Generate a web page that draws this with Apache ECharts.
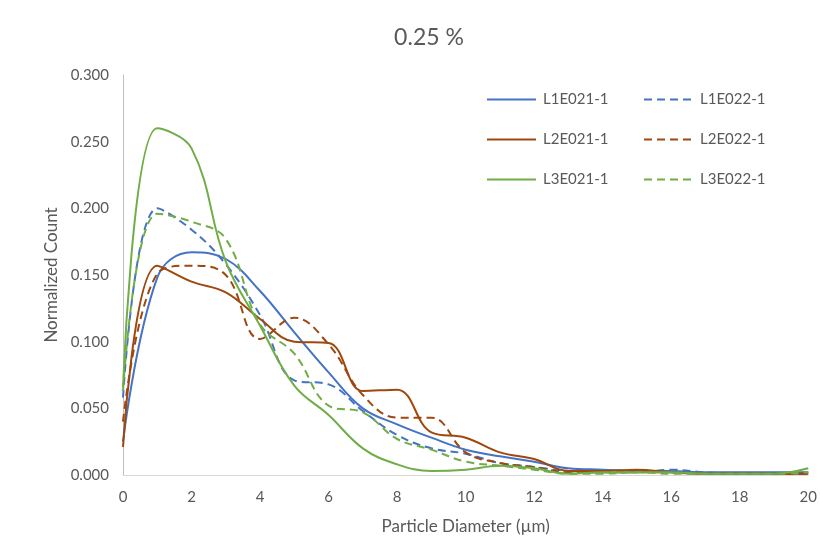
<!DOCTYPE html>
<html>
<head>
<meta charset="utf-8">
<script src="https://cdn.jsdelivr.net/npm/echarts@6/dist/echarts.min.js"></script>
<style>
  html, body { margin: 0; padding: 0; background: #fff; }
  #chart { width: 820px; height: 549px; }
</style>
</head>
<body>
<div id="chart"></div>
<script>
// particle diameter (um), one point per integer
const diameters = [0, 1, 2, 3, 4, 5, 6, 7, 8, 9, 10, 11, 12, 13, 14, 15, 16, 17, 18, 19, 20]

const seriesNames = ['L1E021-1', 'L1E022-1', 'L2E021-1', 'L2E022-1', 'L3E021-1', 'L3E022-1']

const l1e021 = [0.025, 0.148, 0.167, 0.162, 0.138, 0.107, 0.077, 0.050, 0.038, 0.028, 0.019, 0.014, 0.010, 0.005, 0.004, 0.003, 0.003, 0.002, 0.002, 0.002, 0.002]
const l1e022 = [0.058, 0.200, 0.184, 0.158, 0.120, 0.071, 0.068, 0.048, 0.030, 0.020, 0.016, 0.009, 0.006, 0.003, 0.002, 0.002, 0.004, 0.002, 0.001, 0.001, 0.001]
const l2e021 = [0.021, 0.157, 0.145, 0.137, 0.117, 0.100, 0.099, 0.063, 0.064, 0.032, 0.028, 0.017, 0.012, 0.003, 0.003, 0.004, 0.002, 0.001, 0.001, 0.001, 0.001]
const l2e022 = [0.040, 0.151, 0.157, 0.150, 0.102, 0.118, 0.098, 0.060, 0.043, 0.043, 0.017, 0.009, 0.006, 0.002, 0.002, 0.002, 0.002, 0.001, 0.001, 0.001, 0.001]
const l3e021 = [0.066, 0.260, 0.245, 0.160, 0.112, 0.067, 0.045, 0.020, 0.008, 0.003, 0.004, 0.007, 0.005, 0.001, 0.002, 0.002, 0.002, 0.001, 0.001, 0.001, 0.005]
const l3e022 = [0.063, 0.196, 0.190, 0.177, 0.113, 0.091, 0.052, 0.047, 0.027, 0.019, 0.010, 0.007, 0.004, 0.001, 0.001, 0.002, 0.001, 0.001, 0.001, 0.001, 0.002]

const xTicks = [0, 2, 4, 6, 8, 10, 12, 14, 16, 18, 20]
const yTicks = [0, 0.05, 0.1, 0.15, 0.2, 0.25, 0.3]

const FONT = 'Lato, "Liberation Sans", sans-serif'
const TEXT = '#595959'
const BLUE = '#4472C4'
const BROWN = '#9E480E'
const GREEN = '#70AD47'

function pairs (ys) {
  return diameters.map((d, i) => [d, ys[i]])
}

function makeLine (name, ys, color, dashed) {
  return {
    name: name,
    type: 'line',
    data: pairs(ys),
    smooth: 0.4,
    symbol: 'none',
    lineStyle: { color: color, width: 2, type: dashed ? [8, 5] : 'solid' },
    itemStyle: { color: color },
    emphasis: { disabled: true }
  }
}

const legendCommon = {
  orient: 'vertical',
  top: 92,
  padding: 0,
  itemWidth: 49,
  itemHeight: 16,
  itemGap: 25,
  itemStyle: { opacity: 0 },
  textStyle: { fontFamily: FONT, fontSize: 15, color: TEXT, padding: [0, 0, 0, 2] }
}

const chart = echarts.init(document.getElementById('chart'))
chart.setOption({
  animation: false,
  title: {
    text: '0.25 %',
    left: 424,
    top: 21,
    textAlign: 'center',
    textStyle: { fontFamily: FONT, fontSize: 23, fontWeight: 'normal', color: TEXT }
  },
  legend: [
    Object.assign({ left: 486, data: [seriesNames[0], seriesNames[2], seriesNames[4]] }, legendCommon),
    Object.assign({ left: 643, data: [seriesNames[1], seriesNames[3], seriesNames[5]] }, legendCommon)
  ],
  grid: { left: 123, right: 10, top: 75, bottom: 74, containLabel: false },
  xAxis: {
    type: 'value',
    min: 0,
    max: 20,
    interval: 2,
    name: 'Particle Diameter (µm)',
    nameLocation: 'middle',
    nameGap: 43,
    nameTextStyle: { fontFamily: FONT, fontSize: 17, color: TEXT },
    axisLine: { lineStyle: { color: '#D9D9D9', width: 1 } },
    axisTick: { show: false },
    splitLine: { show: false },
    axisLabel: {
      fontFamily: FONT, fontSize: 15, color: TEXT, margin: 15,
      customValues: xTicks
    }
  },
  yAxis: {
    type: 'value',
    min: 0,
    max: 0.3,
    interval: 0.05,
    name: 'Normalized Count',
    nameLocation: 'middle',
    nameGap: 63,
    nameRotate: 90,
    nameTextStyle: { fontFamily: FONT, fontSize: 17, color: TEXT },
    axisLine: { show: true, lineStyle: { color: '#BFBFBF', width: 1 } },
    axisTick: { show: false },
    splitLine: { show: false },
    axisLabel: {
      fontFamily: FONT, fontSize: 15, color: TEXT, margin: 14,
      customValues: yTicks,
      formatter: v => v.toFixed(3)
    }
  },
  series: [
    makeLine(seriesNames[0], l1e021, BLUE, false),
    makeLine(seriesNames[1], l1e022, BLUE, true),
    makeLine(seriesNames[2], l2e021, BROWN, false),
    makeLine(seriesNames[3], l2e022, BROWN, true),
    makeLine(seriesNames[4], l3e021, GREEN, false),
    makeLine(seriesNames[5], l3e022, GREEN, true)
  ]
})
</script>
</body>
</html>
